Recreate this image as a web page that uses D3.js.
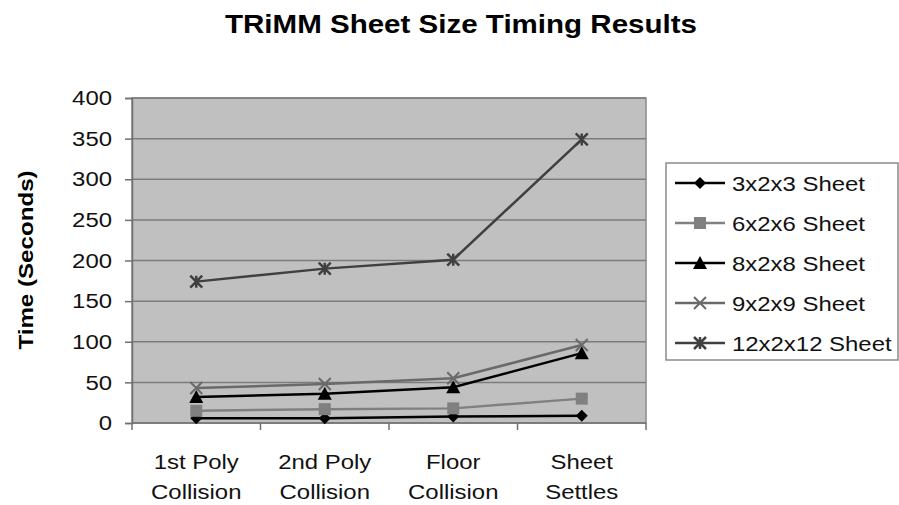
<!DOCTYPE html>
<html>
<head>
<meta charset="utf-8">
<script src="https://cdn.jsdelivr.net/npm/d3@7"></script>
<style>
  body { margin: 0; background: #fff; }
  svg { font-family: 'Liberation Sans', Arial, sans-serif; }
</style>
</head>
<body>
<svg width="899" height="505"></svg>
<script>
const categories = [['1st Poly', 'Collision'], ['2nd Poly', 'Collision'], ['Floor', 'Collision'], ['Sheet', 'Settles']];
const seriesNames = ['3x2x3 Sheet', '6x2x6 Sheet', '8x2x8 Sheet', '9x2x9 Sheet', '12x2x12 Sheet'];
const s3 = [6, 6, 8, 9];
const s6 = [15, 17, 18, 30];
const s8 = [32, 36, 44, 86];
const s9 = [43, 48, 55, 96];
const s12 = [174, 190, 201, 349];
const yTicks = [0, 50, 100, 150, 200, 250, 300, 350, 400];

const series = [s3, s6, s8, s9, s12];
const COLORS = ['#000', '#808080', '#000', '#6a6a6a', '#404040'];
const MARKERS = ['diamond', 'square', 'triangle', 'x', 'star'];
const STRETCH = 1.14; // text in the source picture is a bit wide

const SVG = d3.select('svg');
const LEFT = 132, RIGHT = 646, TOP = 98, BOTTOM = 423;

const X_SCALE = d3.scaleBand().domain(d3.range(categories.length)).range([LEFT, RIGHT]);
const Y_SCALE = d3.scaleLinear().domain([0, 400]).range([BOTTOM, TOP]);

// wide text helper
function wideText(parent, x, y, str, size) {
  return parent.append('text')
    .attr('transform', `translate(${x},${y}) scale(${STRETCH},1)`)
    .attr('fill', '#111')
    .style('font-size', size + 'px')
    .text(str);
}

// title
SVG.append('text')
  .attr('x', 461).attr('y', 33)
  .attr('text-anchor', 'middle')
  .attr('textLength', 472).attr('lengthAdjust', 'spacingAndGlyphs')
  .style('font-size', '26px').style('font-weight', 'bold')
  .text('TRiMM Sheet Size Timing Results');

// plot area
SVG.append('rect')
  .attr('x', LEFT).attr('y', TOP)
  .attr('width', RIGHT - LEFT).attr('height', BOTTOM - TOP)
  .attr('fill', '#c0c0c0').attr('stroke', '#8a8a8a').attr('stroke-width', 1.5);

// gridlines
SVG.append('g').selectAll('line')
  .data(yTicks.filter((d) => d > 0))
  .join('line')
  .attr('x1', LEFT).attr('x2', RIGHT)
  .attr('y1', (d) => Y_SCALE(d)).attr('y2', (d) => Y_SCALE(d))
  .attr('stroke', '#7c7c7c').attr('stroke-width', 1.5);

// y axis
const Y_AXIS_G = SVG.append('g').attr('transform', `translate(${LEFT},0)`);
Y_AXIS_G.call(d3.axisLeft(Y_SCALE).tickValues(yTicks).tickSize(7).tickPadding(12));
Y_AXIS_G.select('.domain').attr('stroke', '#707070').attr('stroke-width', 1.5);
Y_AXIS_G.selectAll('.tick line').attr('stroke', '#707070').attr('stroke-width', 1.5);
Y_AXIS_G.selectAll('.tick text')
  .attr('transform', `translate(-20,0) scale(${STRETCH},1)`)
  .attr('x', 0)
  .style('font-size', '21px').attr('fill', '#111')
  .attr('font-family', 'Liberation Sans, Arial, sans-serif');

// x axis
const X_AXIS_G = SVG.append('g').attr('transform', `translate(0,${BOTTOM})`);
X_AXIS_G.append('line').attr('x1', LEFT).attr('x2', RIGHT)
  .attr('stroke', '#707070').attr('stroke-width', 1.5);
X_AXIS_G.selectAll('line.tk')
  .data(d3.range(categories.length + 1))
  .join('line').attr('class', 'tk')
  .attr('x1', (d) => LEFT + d * X_SCALE.step()).attr('x2', (d) => LEFT + d * X_SCALE.step())
  .attr('y1', 0).attr('y2', 7)
  .attr('stroke', '#707070').attr('stroke-width', 1.5);
categories.forEach((lines, i) => {
  const cx = X_SCALE(i) + X_SCALE.bandwidth() / 2;
  lines.forEach((t, j) => {
    wideText(X_AXIS_G, cx, 46 + j * 30, t, 21).attr('text-anchor', 'middle');
  });
});

// y label
SVG.append('text')
  .attr('transform', `translate(33,260) rotate(-90) scale(1.15,1)`)
  .attr('text-anchor', 'middle')
  .style('font-size', '21px').style('font-weight', 'bold')
  .text('Time (Seconds)');

function drawMarker(g, type, color) {
  const s = 6;
  if (type === 'diamond') {
    g.append('path').attr('d', `M0,${-s}L${s},0L0,${s}L${-s},0Z`).attr('fill', color);
  } else if (type === 'square') {
    g.append('rect').attr('x', -s).attr('y', -s).attr('width', 2 * s).attr('height', 2 * s).attr('fill', color);
  } else if (type === 'triangle') {
    g.append('path').attr('d', `M0,${-s - 1}L${s + 1},${s}L${-s - 1},${s}Z`).attr('fill', color);
  } else if (type === 'x') {
    g.append('path').attr('d', `M${-s},${-s}L${s},${s}M${s},${-s}L${-s},${s}`)
      .attr('stroke', color).attr('stroke-width', 2);
  } else {
    g.append('path').attr('d', `M${-s},${-s}L${s},${s}M${s},${-s}L${-s},${s}M0,${-s}L0,${s}`)
      .attr('stroke', color).attr('stroke-width', 2.5);
  }
}

// series
const LINE = d3.line()
  .x((d, i) => X_SCALE(i) + X_SCALE.bandwidth() / 2)
  .y((d) => Y_SCALE(d));

series.forEach((vals, k) => {
  const g = SVG.append('g');
  g.append('path').attr('d', LINE(vals))
    .attr('fill', 'none').attr('stroke', COLORS[k]).attr('stroke-width', 2.5);
  vals.forEach((v, i) => {
    const m = g.append('g')
      .attr('transform', `translate(${X_SCALE(i) + X_SCALE.bandwidth() / 2},${Y_SCALE(v)})`);
    drawMarker(m, MARKERS[k], COLORS[k]);
  });
});

// legend
const LEG = SVG.append('g').attr('transform', 'translate(666,163)');
LEG.append('rect').attr('width', 232).attr('height', 197)
  .attr('fill', '#fff').attr('stroke', '#8a8a8a').attr('stroke-width', 1.5);
seriesNames.forEach((name, k) => {
  const y = 20 + k * 40;
  LEG.append('line').attr('x1', 9).attr('x2', 59).attr('y1', y).attr('y2', y)
    .attr('stroke', COLORS[k]).attr('stroke-width', 2.5);
  const m = LEG.append('g').attr('transform', `translate(34,${y})`);
  drawMarker(m, MARKERS[k], COLORS[k]);
  wideText(LEG, 66, y + 7.5, name, 21);
});
</script>
</body>
</html>
